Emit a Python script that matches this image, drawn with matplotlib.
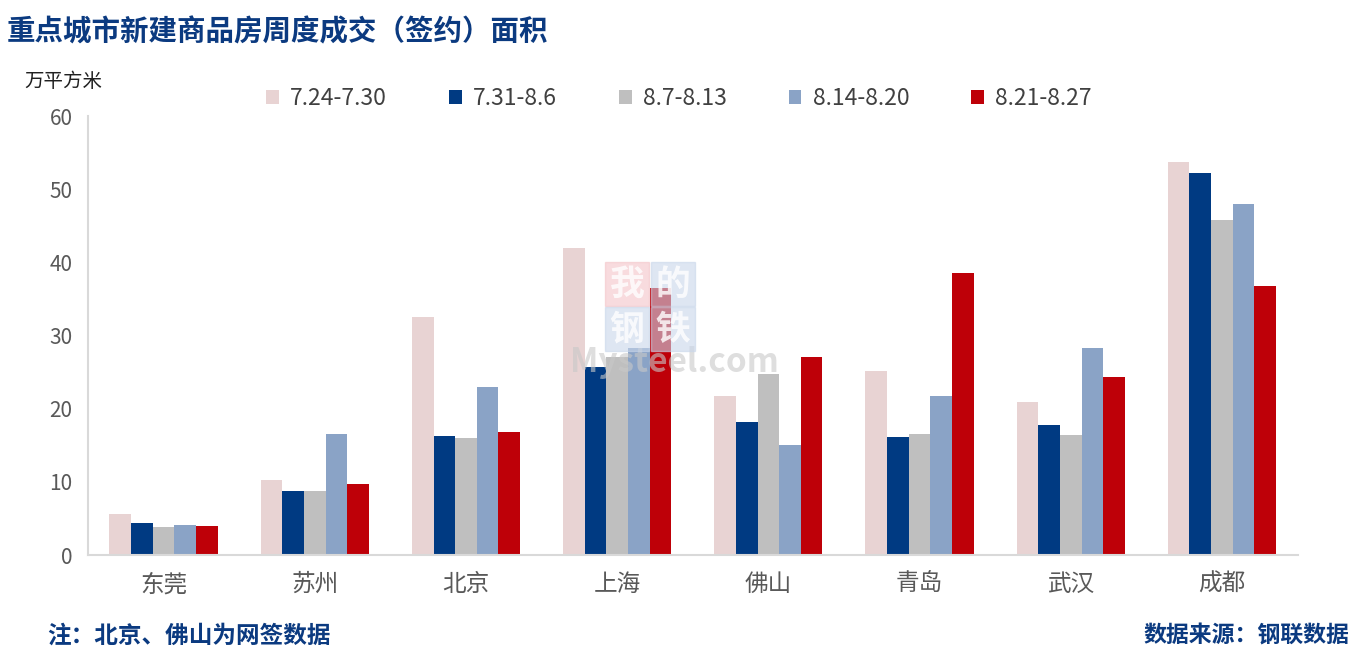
import matplotlib
matplotlib.use("Agg")
import matplotlib.pyplot as plt
from matplotlib.patches import Rectangle
import numpy as np

plt.rcParams['font.family'] = ['Noto Sans CJK SC', 'DejaVu Sans']

# 数据（万平方米）
cities = ['东莞', '苏州', '北京', '上海', '佛山', '青岛', '武汉', '成都']
weeks = ['7.24-7.30', '7.31-8.6', '8.7-8.13', '8.14-8.20', '8.21-8.27']
w1 = [5.6, 10.3, 32.5, 42.0, 21.7, 25.1, 20.9, 53.8]
w2 = [4.4, 8.8, 16.3, 25.7, 18.2, 16.1, 17.8, 52.3]
w3 = [3.8, 8.8, 16.0, 27.1, 24.7, 16.5, 16.4, 45.8]
w4 = [4.1, 16.5, 23.0, 28.3, 15.0, 21.7, 28.3, 48.0]
w5 = [4.0, 9.7, 16.8, 36.5, 27.1, 38.5, 24.3, 36.8]
series = [w1, w2, w3, w4, w5]
colors = ['#E8D3D3', '#003A82', '#BFBFBF', '#8AA3C6', '#BE0008']

W, H = 1353, 653
fig = plt.figure(figsize=(W / 100, H / 100), dpi=100)
ax = fig.add_axes([0.065, 0.150, 0.894, 0.672])

x = np.arange(len(cities))
bw = 0.143
for i, (vals, c, lab) in enumerate(zip(series, colors, weeks)):
    ax.bar(x + (i - 2) * bw, vals, width=bw, color=c, label=lab, zorder=2)

ax.set_xlim(-0.5, len(cities) - 0.5)
ax.set_ylim(0, 60)
ax.set_yticks(range(0, 61, 10))
ax.set_xticks(x)
ax.set_xticklabels(cities, fontsize=17, color='#595959')
ax.tick_params(axis='y', length=0, labelsize=15, labelcolor='#595959', pad=11)
ax.tick_params(axis='x', length=0, pad=13)
for s in ['top', 'right']:
    ax.spines[s].set_visible(False)
for s in ['left', 'bottom']:
    ax.spines[s].set_color('#D9D9D9')
    ax.spines[s].set_linewidth(1.5)

# 水印：我的钢铁 + Mysteel.com
wm = [('我', 627, 284, '#F4C4C8'), ('的', 673, 284, '#C9D6EA'),
      ('钢', 627, 329, '#C9D6EA'), ('铁', 673, 329, '#C9D6EA')]
for ch, cx, cy, bg in wm:
    fig.patches.append(Rectangle(((cx - 22) / W, 1 - (cy + 22) / H), 44 / W, 44 / H,
                                 transform=fig.transFigure, color=bg, alpha=0.6, zorder=3))
    fig.text(cx / W, 1 - cy / H, ch, fontsize=25, fontweight='bold', color='white',
             alpha=0.8, ha='center', va='center', zorder=4)
ax.text(0.485, 0.438, 'Mysteel.com', transform=ax.transAxes, ha='center', va='center',
        fontsize=24, color='#C8C8C8', alpha=0.6, fontweight='bold', zorder=3)

fig.legend(loc='center', bbox_to_anchor=(0.502, 0.849), ncol=5, frameon=False,
           fontsize=16.5, labelcolor='#404040', handlelength=0.55, handleheight=0.55,
           columnspacing=2.7, handletextpad=0.5)

fig.text(0.005, 0.95, '重点城市新建商品房周度成交（签约）面积', fontsize=20.5,
         fontweight='bold', color='#0B3A80', va='center', ha='left')
fig.text(0.018, 0.875, '万平方米', fontsize=14, color='#202020', va='center')
fig.text(0.035, 0.027, '注：北京、佛山为网签数据', fontsize=17, fontweight='bold',
         color='#0B3A80', va='center')
fig.text(0.997, 0.027, '数据来源：钢联数据', fontsize=16.5, fontweight='bold',
         color='#0B3A80', va='center', ha='right')

fig.savefig('out.png', dpi=100)
